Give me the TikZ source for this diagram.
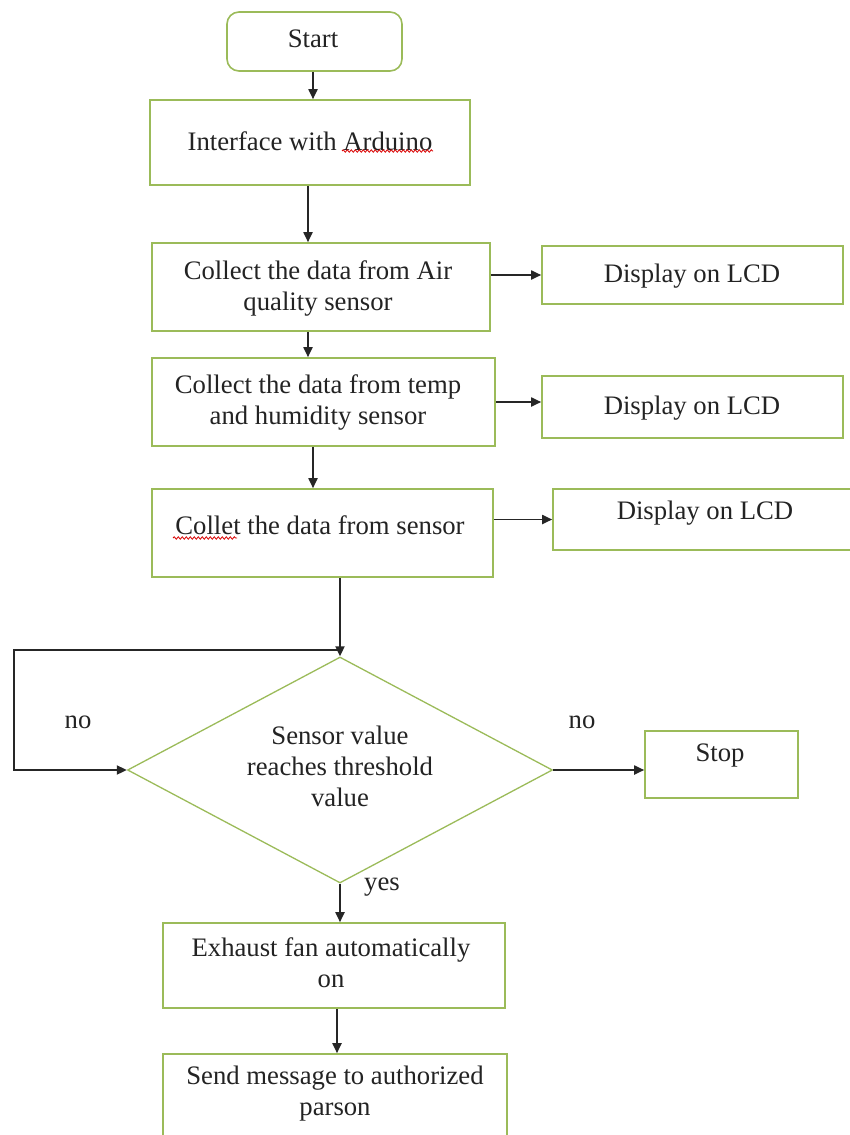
\documentclass[tikz,border=0pt]{standalone}
\usepackage{fontspec}
\setmainfont{Liberation Serif}
\usetikzlibrary{arrows.meta,shapes.geometric,decorations.pathmorphing}
\definecolor{boxgreen}{RGB}{155,187,89}
\definecolor{inkgray}{RGB}{35,35,35}
\begin{document}
\begin{tikzpicture}[x=1pt,y=-1pt,
  box/.style={draw=boxgreen, line width=1.6pt, inner sep=0pt},
  txt/.style={font=\fontsize{26.7}{31}\selectfont, text=inkgray, align=center, inner sep=0pt},
  flow/.style={draw=black!85, line width=1.8pt, -{Triangle[length=10pt,width=9pt]}},
  squiggle/.style={draw=red!85!black, line width=0.8pt, decorate,
    decoration={snake, amplitude=1.2pt, segment length=4pt}}]

\useasboundingbox (0,0) rectangle (849,1135);

% process boxes
\node[box, rounded corners=12pt, minimum width=175pt, minimum height=59pt] (start) at (314.5,41.5) {};
\node[box, minimum width=320pt, minimum height=85pt] (iface) at (310,142.5) {};
\node[box, minimum width=338pt, minimum height=88pt] (air) at (321,287) {};
\node[box, minimum width=301pt, minimum height=58pt] (lcd1) at (692.5,275) {};
\node[box, minimum width=343pt, minimum height=88pt] (temp) at (323.5,402) {};
\node[box, minimum width=301pt, minimum height=62pt] (lcd2) at (692.5,407) {};
\node[box, minimum width=341pt, minimum height=88pt] (sens) at (322.5,533) {};
\node[box, minimum width=307pt, minimum height=61pt] (lcd3) at (706.5,519.5) {};
\node[box, diamond, line width=1.3pt, minimum width=425pt, minimum height=226pt] (dia) at (340,770) {};
\node[box, minimum width=153pt, minimum height=67pt] (stop) at (721.5,764.5) {};
\node[box, minimum width=342pt, minimum height=85pt] (fan) at (334,965.5) {};
\node[box, minimum width=344pt, minimum height=106pt] (msg) at (335,1107) {};

% box texts
\node[txt] (tstart) at (313,39) {Start};
\node[txt] (tiface) at (310,141) {Interface with Arduino};
\node[txt] (tair) at (318,288) {Collect the data from Air\\quality sensor};
\node[txt] (tlcd1) at (692,276) {Display on LCD};
\node[txt] (ttemp) at (318,402) {Collect the data from temp\\and humidity sensor};
\node[txt] (tlcd2) at (692,408) {Display on LCD};
\node[txt] (tsens) at (320,525) {Collet the data from sensor};
\node[txt] (tlcd3) at (705,513) {Display on LCD};
\node[txt] (tdia) at (340,766) {Sensor value\\reaches threshold\\value};
\node[txt] (tstop) at (720,755) {Stop};
\node[txt] (tfan) at (331,963) {Exhaust fan automatically\\on};
\node[txt] (tmsg) at (335,1094) {Send message to authorized\\parson};

% branch labels
\node[txt] (nol) at (78,722) {no};
\node[txt] (nor) at (582,722) {no};
\node[txt] (yes) at (382,887) {yes};

% spell-check marks
\draw[squiggle] (342,151) -- (433,151);
\draw[squiggle] (173,538) -- (237,538);

% connectors
\draw[flow] ([xshift=-1.5pt]start.south) -- ([xshift=-1.5pt]start.south |- iface.north);
\draw[flow] ([xshift=-2pt]iface.south) -- ([xshift=-2pt]iface.south |- air.north);
\draw[flow] ([xshift=-13pt]air.south) -- ([xshift=-13pt]air.south |- temp.north);
\draw[flow] ([xshift=-10.5pt]temp.south) -- ([xshift=-10.5pt]temp.south |- sens.north);
\draw[flow] (air.east |- lcd1.west) -- (lcd1.west);
\draw[flow] (temp.east) -- (temp.east -| lcd2.west);
\draw[flow] (sens.east |- lcd3.west) -- (lcd3.west);
\draw[flow] (sens.south -| dia.north) -- (dia.north);
\coordinate (join) at (340,650);
\coordinate (loopc) at (14,650);
\draw[flow] (join) -- (loopc) |- (dia.west);
\draw[flow] (dia.east) -- (dia.east -| stop.west);
\draw[flow] (dia.south) -- (dia.south |- fan.north);
\draw[flow] ([xshift=3pt]fan.south) -- ([xshift=3pt]fan.south |- msg.north);
\end{tikzpicture}
\end{document}
